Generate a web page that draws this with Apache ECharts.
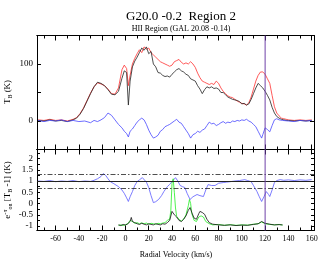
<!DOCTYPE html>
<html><head><meta charset="utf-8">
<script src="https://cdn.jsdelivr.net/npm/echarts@6/dist/echarts.min.js"></script>
<style>html,body{margin:0;padding:0;background:#fff}#c{width:336px;height:267px}</style>
</head><body><div id="c"></div>
<script>
// ---- data ----
const topBlack = [[-75,1],[-70,0],[-65,2],[-60,0],[-55,1],[-50,-1],[-45,2],[-42,5],[-39,12],[-36,22],[-33,35],[-30,48],[-27,60],[-24,68],[-21,66],[-18,62],[-15,55],[-12,47],[-9,46],[-6,52],[-3,75],[-1,88],[1,85],[2.5,28],[4,70],[6,95],[8,105],[10,112],[12,120],[14,128],[16,124],[18,130],[20,118],[22,122],[24,100],[26,95],[28,85],[30,84],[32,80],[34,78],[36,79],[38,77],[40,82],[42,86],[44,90],[46,92],[48,88],[50,86],[52,82],[54,80],[56,74],[58,72],[60,70],[62,62],[64,56],[66,48],[68,55],[70,60],[72,58],[74,60],[76,57],[78,58],[80,56],[82,50],[84,50],[86,46],[88,42],[90,40],[92,38],[94,37],[96,36],[98,34],[100,30],[102,31],[104,28],[106,30],[108,38],[110,48],[112,58],[114,66],[116,62],[118,58],[120,52],[122,45],[124,37],[126,24],[128,14],[130,8],[132,5],[134,3],[136,2],[138,1],[140,1],[145,0],[150,1],[155,0],[160,1]];
const topRed = [[-75,2],[-70,1],[-65,3],[-60,1],[-55,2],[-50,0],[-45,3],[-42,6],[-39,13],[-36,23],[-33,36],[-30,49],[-27,60],[-24,67],[-21,65],[-18,62],[-15,56],[-12,48],[-9,47],[-6,58],[-3,90],[-1,98],[1,92],[2.5,62],[4,80],[6,100],[8,110],[10,118],[12,125],[14,120],[16,130],[18,126],[20,128],[22,120],[24,116],[26,112],[28,108],[30,104],[32,102],[34,100],[36,98],[38,96],[40,98],[42,104],[44,106],[46,108],[48,103],[50,100],[52,102],[54,100],[56,104],[58,100],[60,94],[62,84],[64,76],[66,70],[68,68],[70,66],[72,64],[74,66],[76,64],[78,70],[80,66],[82,58],[84,52],[86,48],[88,44],[90,42],[92,41],[94,38],[96,35],[98,33],[100,31],[102,30],[104,28],[106,32],[108,42],[110,56],[112,70],[114,80],[116,86],[118,86],[120,82],[122,74],[124,66],[126,45],[128,25],[130,14],[132,9],[134,5],[136,4],[138,3],[140,2],[145,1],[150,2],[155,1],[160,2]];
const topBlue = [[-75,1],[-70,-1],[-65,1],[-60,0],[-55,2],[-50,-1],[-45,1],[-40,-1],[-35,0],[-30,-3],[-27,1],[-24,-1],[-21,2],[-18,6],[-15,14],[-12,10],[-9,2],[-6,-6],[-3,-12],[-1,-18],[1,-22],[2.5,-28],[4,-18],[6,-14],[8,-8],[10,-2],[12,2],[14,5],[16,2],[18,-6],[20,-16],[22,-24],[24,-30],[26,-28],[28,-25],[30,-18],[32,-15],[34,-10],[36,-8],[38,-6],[40,-3],[42,0],[44,3],[46,-2],[48,-4],[50,-10],[52,-16],[54,-22],[56,-30],[58,-24],[60,-22],[62,-18],[64,-20],[66,-16],[68,-14],[70,-8],[72,-2],[74,-5],[76,-4],[78,-8],[80,-6],[82,-3],[84,-1],[86,-4],[88,-2],[90,-3],[92,0],[94,-1],[96,1],[98,0],[100,2],[102,1],[104,3],[106,0],[108,-2],[110,-6],[112,-10],[114,-18],[116,-26],[117,-30],[118,-24],[120,-12],[122,-15],[124,-19],[126,-8],[128,2],[130,4],[132,2],[135,1],[140,0],[145,-1],[150,1],[155,0],[160,1]];
const botBlue = [[-75,1.0],[-70,0.98],[-65,1.02],[-60,0.97],[-55,1.0],[-50,0.98],[-45,1.02],[-40,0.97],[-35,1.0],[-30,0.98],[-27,1.03],[-24,1.1],[-21,1.2],[-19,1.33],[-17,1.25],[-15,1.1],[-13,0.97],[-10,0.88],[-6,0.75],[-3,0.6],[-1,0.45],[1,0.25],[2.5,0.09],[4,0.3],[6,0.53],[8,0.8],[10,0.97],[12,1.05],[14.5,1.15],[16,1.1],[18,0.95],[20,0.71],[22,0.35],[24,0.04],[26,0.08],[28.5,0.18],[31,0.35],[33,0.53],[36,0.75],[38,0.85],[40,0.97],[43,1.15],[45,1.0],[47,0.8],[49,0.75],[51,0.71],[53,0.45],[55.5,0.18],[58,0.3],[61.5,0.4],[64,0.35],[67,0.31],[69,0.6],[71,0.84],[74,0.8],[77,0.8],[80,0.9],[84,0.93],[87,0.95],[90,0.97],[94,1.0],[98,1.02],[102.5,1.06],[105,1.02],[108,0.97],[110,0.8],[113,0.53],[115,0.3],[117,0.09],[119,0.3],[121,0.53],[123,0.4],[124,0.31],[126,0.6],[128,0.93],[130,1.02],[133,1.06],[136,1.03],[140,1.05],[145,1.02],[150,1.05],[155,1.03],[160,1.06]];
const botBlack = [[-6,-0.95],[-4,-0.98],[-2,-0.93],[0,-0.96],[2,-0.9],[4,-0.8],[5,-0.62],[6,-0.8],[8,-0.85],[10,-0.9],[12,-0.93],[14,-0.88],[16,-0.92],[18,-0.95],[20,-0.9],[22,-0.93],[24,-0.95],[26,-0.9],[28,-0.93],[30,-0.95],[32,-0.9],[34,-0.92],[36,-0.85],[38,-0.75],[40,-0.35],[42,-0.5],[44,-0.6],[46,-0.75],[48,-0.8],[50,-0.7],[52,-0.55],[54,-0.3],[55.5,-0.18],[57,-0.4],[59,-0.65],[61,-0.7],[63,-0.45],[64,-0.35],[66,-0.4],[68,-0.48],[70,-0.7],[72,-0.85],[75,-0.92],[80,-0.95],[85,-0.97],[90,-0.95],[95,-0.98],[100,-0.96],[105,-0.97],[110,-0.93],[114,-0.9],[117,-0.8],[120,-0.88],[124,-0.92],[128,-0.95],[132,-0.94],[135,-0.95]];
const botGreen = [[-6,-0.97],[-4,-0.95],[-2,-0.98],[0,-0.94],[2,-0.9],[4,-0.75],[5,-0.7],[6,-0.8],[8,-0.88],[10,-0.85],[12,-0.9],[14,-0.86],[16,-0.9],[18,-0.87],[20,-0.92],[22,-0.88],[24,-0.9],[26,-0.92],[28,-0.88],[30,-0.9],[32,-0.87],[34,-0.85],[36,-0.75],[38,-0.7],[39,-0.3],[40,0.9],[41,1.1],[42,0.5],[43,-0.2],[44,-0.57],[46,-0.7],[48,-0.78],[50,-0.7],[52,-0.5],[54,-0.1],[55,0.18],[56,0.0],[57,-0.45],[59,-0.75],[61,-0.8],[63,-0.6],[65,-0.55],[67,-0.6],[69,-0.8],[72,-0.9],[75,-0.95],[80,-0.93],[85,-0.97],[90,-0.94],[95,-0.97],[100,-0.95],[105,-0.96],[110,-0.92],[114,-0.9],[117,-0.82],[120,-0.9],[124,-0.93],[128,-0.95],[132,-0.93],[135,-0.96]];
const xMajorTicks = [-60,-40,-20,0,20,40,60,80,100,120,140,160];
const xMinorTicks = [-70,-50,-30,-10,10,30,50,70,90,110,130,150];
const topYLabels = [0,100];
const topYTicks = [-50,0,50,100,150];
const botYLabels = [-1,-0.5,0,0.5,1,1.5,2];
const botYTicks = [-1,-0.75,-0.5,-0.25,0,0.25,0.5,0.75,1,1.25,1.5,1.75,2,2.25];
const vLine = 120;
const hLines = [1];
const hDash = [0.7,1.3];

// ---- chart ----
const FONT = 'Liberation Serif';
const X_MIN = -76, X_MAX = 162;
const TOP_MIN = -50, TOP_MAX = 150, BOT_MIN = -1.2, BOT_MAX = 2.4;
const AX = {color:'#000', width:1};
function xAx(grid, pos, ticks, len, labels){
  return {type:'value', gridIndex:grid, position:pos, min:X_MIN, max:X_MAX,
    axisLine:{show:true, onZero:false, lineStyle:AX},
    axisTick:{show:true, inside:true, length:len, customValues:ticks, lineStyle:AX},
    axisLabel:{show:!!labels, customValues:ticks, fontFamily:FONT, fontSize:8, color:'#000', margin:4},
    splitLine:{show:false}};
}
function yAx(grid, pos, min, max, ticks, labels, len){
  return {type:'value', gridIndex:grid, position:pos, min:min, max:max,
    axisLine:{show:true, onZero:false, lineStyle:AX},
    axisTick:{show:true, inside:true, length:len, customValues:ticks, lineStyle:AX},
    axisLabel:{show:!!labels, customValues:labels||[], fontFamily:FONT, fontSize:9, color:'#000', margin:4},
    splitLine:{show:false}};
}
const chart = echarts.init(document.getElementById('c'), null, {renderer:'canvas'});
const line = (data, color, xi, yi, extra) => Object.assign({type:'line', data:data, xAxisIndex:xi, yAxisIndex:yi,
  showSymbol:false, symbol:'none', lineStyle:{color:color, width:0.8}, itemStyle:{color:color}, animation:false, z:3}, extra||{});
const purple = '#6f42a8';
const dashDot = {color:'#222', width:0.8, type:[5,2,1.5,2]};
chart.setOption({
  animation:false,
  title:[
    {text:'G20.0 -0.2  Region 2', left:176, top:5, textAlign:'center',
      textStyle:{fontFamily:FONT, fontSize:13, fontWeight:'normal', color:'#000'}},
    {text:'HII Region (GAL 20.08 -0.14)', left:176, top:20, textAlign:'center',
      textStyle:{fontFamily:FONT, fontSize:8, fontWeight:'normal', color:'#000'}}
  ],
  grid:[
    {left:37, right:22, top:35.5, height:114},
    {left:37, right:22, top:149.5, height:81}
  ],
  xAxis:[
    xAx(0,'bottom',xMajorTicks,5,false),
    xAx(0,'bottom',xMinorTicks,3,false),
    xAx(0,'top',xMajorTicks,5,false),
    xAx(0,'top',xMinorTicks,3,false),
    xAx(1,'bottom',xMajorTicks,5,true),
    xAx(1,'bottom',xMinorTicks,3,false),
    xAx(1,'top',xMajorTicks,5,false),
    xAx(1,'top',xMinorTicks,3,false)
  ],
  yAxis:[
    yAx(0,'left',TOP_MIN,TOP_MAX,topYTicks,topYLabels,4),
    yAx(0,'right',TOP_MIN,TOP_MAX,topYTicks,null,4),
    yAx(1,'left',BOT_MIN,BOT_MAX,botYTicks,botYLabels,3),
    yAx(1,'right',BOT_MIN,BOT_MAX,botYTicks,null,3)
  ],
  graphic:[
    {type:'text', x:8, y:92, rotation:Math.PI/2, style:{
      text:'T{s|B} (K)', fontFamily:FONT, fontSize:9, fill:'#000', align:'center', verticalAlign:'middle',
      rich:{s:{fontFamily:FONT, fontSize:6, verticalAlign:'bottom', padding:[4,0,0,0]}}}},
    {type:'text', x:8, y:190, rotation:Math.PI/2, style:{
      text:'e{sup|-τ}{sub|on} [T{sub|B} -1] (K)', fontFamily:FONT, fontSize:9, fill:'#000', align:'center', verticalAlign:'middle',
      rich:{sup:{fontFamily:FONT, fontSize:7, padding:[0,0,6,0]}, sub:{fontFamily:FONT, fontSize:6, padding:[5,0,0,0]}}}},
    {type:'text', x:176, y:255, style:{text:'Radial Velocity (km/s)', fontFamily:FONT, fontSize:8, fill:'#000', align:'center', verticalAlign:'middle'}}
  ],
  series:[
    line(topRed,'#ff3030',0,0),
    line(topBlack,'#222',0,0),
    line(topBlue,'#4848ff',0,0),
    line([[vLine,TOP_MIN],[vLine,TOP_MAX]], purple, 0, 0, {lineStyle:{color:purple, width:1}, z:5}),
    line(botBlue,'#5a5aff',4,2,{markLine:{silent:true, symbol:'none', label:{show:false}, z:5, data:[
      {yAxis:hLines[0], lineStyle:{color:'#222', width:1, type:'solid'}},
      {yAxis:hDash[0], lineStyle:dashDot},
      {yAxis:hDash[1], lineStyle:dashDot}
    ]}}),
    line(botGreen,'#22ee22',4,2),
    line(botBlack,'#111',4,2),
    line([[vLine,BOT_MIN],[vLine,BOT_MAX]], purple, 4, 2, {lineStyle:{color:purple, width:1}, z:5})
  ]
});
</script></body></html>
